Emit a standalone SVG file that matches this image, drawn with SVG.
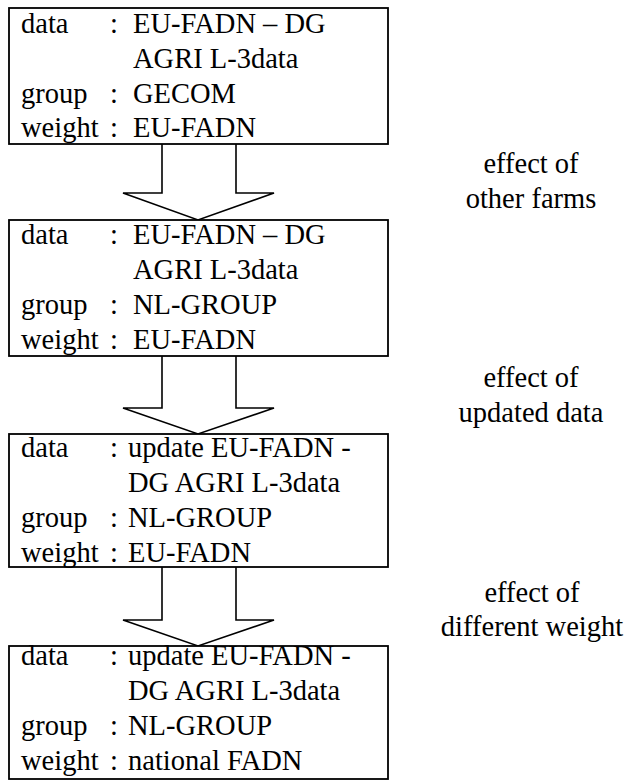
<svg xmlns="http://www.w3.org/2000/svg" width="628" height="781" viewBox="0 0 628 781" font-family="'Liberation Serif', 'Times New Roman', serif" font-size="28.5">
<style>
.box{fill:#fff;stroke:#000;stroke-width:1.8}
.arr{fill:#fff;stroke:#000;stroke-width:1.6;stroke-linejoin:miter}
.lbl{text-anchor:middle}
</style>
<rect width="628" height="781" fill="#fff"/>
<g id="connectors">
<polyline class="arr" points="162,144 162,193 123,193 198,220 274,193 236,193 236,144"/>
<polyline class="arr" points="162,356 162,408 123,408 198,434 274,408 236,408 236,356"/>
<polyline class="arr" points="162,567 162,620 123,620 198,646 274,620 236,620 236,567"/>
</g>
<g id="node1">
<rect class="box" x="9" y="8" width="379" height="136"/>
<text x="21" y="32.5">data</text><text x="110" y="32.5">:</text><text x="133" y="32.5">EU-FADN – DG</text>
<text x="133" y="68">AGRI L-3data</text>
<text x="21" y="102.5">group</text><text x="110" y="102.5">:</text><text x="133" y="102.5">GECOM</text>
<text x="21" y="137">weight</text><text x="110" y="137">:</text><text x="133" y="137">EU-FADN</text>
</g>
<g id="node2">
<rect class="box" x="9" y="220" width="379" height="136"/>
<text x="21" y="244">data</text><text x="110" y="244">:</text><text x="133" y="244">EU-FADN – DG</text>
<text x="133" y="279">AGRI L-3data</text>
<text x="21" y="314">group</text><text x="110" y="314">:</text><text x="133" y="314">NL-GROUP</text>
<text x="21" y="349">weight</text><text x="110" y="349">:</text><text x="133" y="349">EU-FADN</text>
</g>
<g id="node3">
<rect class="box" x="9" y="434" width="379" height="133"/>
<text x="21" y="457">data</text><text x="110" y="457">:</text><text x="128" y="457">update EU-FADN -</text>
<text x="128" y="492">DG AGRI L-3data</text>
<text x="21" y="527">group</text><text x="110" y="527">:</text><text x="128" y="527">NL-GROUP</text>
<text x="21" y="562">weight</text><text x="110" y="562">:</text><text x="128" y="562">EU-FADN</text>
</g>
<g id="node4">
<rect class="box" x="9" y="646" width="379" height="133"/>
<text x="21" y="665">data</text><text x="110" y="665">:</text><text x="128" y="665">update EU-FADN -</text>
<text x="128" y="700">DG AGRI L-3data</text>
<text x="21" y="735">group</text><text x="110" y="735">:</text><text x="128" y="735">NL-GROUP</text>
<text x="21" y="770">weight</text><text x="110" y="770">:</text><text x="128" y="770">national FADN</text>
</g>
<g id="label1"><text class="lbl" x="531" y="173">effect of</text><text class="lbl" x="531" y="208">other farms</text></g>
<g id="label2"><text class="lbl" x="531" y="387">effect of</text><text class="lbl" x="531" y="422">updated data</text></g>
<g id="label3"><text class="lbl" x="532" y="602">effect of</text><text class="lbl" x="532" y="636">different weight</text></g>
</svg>
